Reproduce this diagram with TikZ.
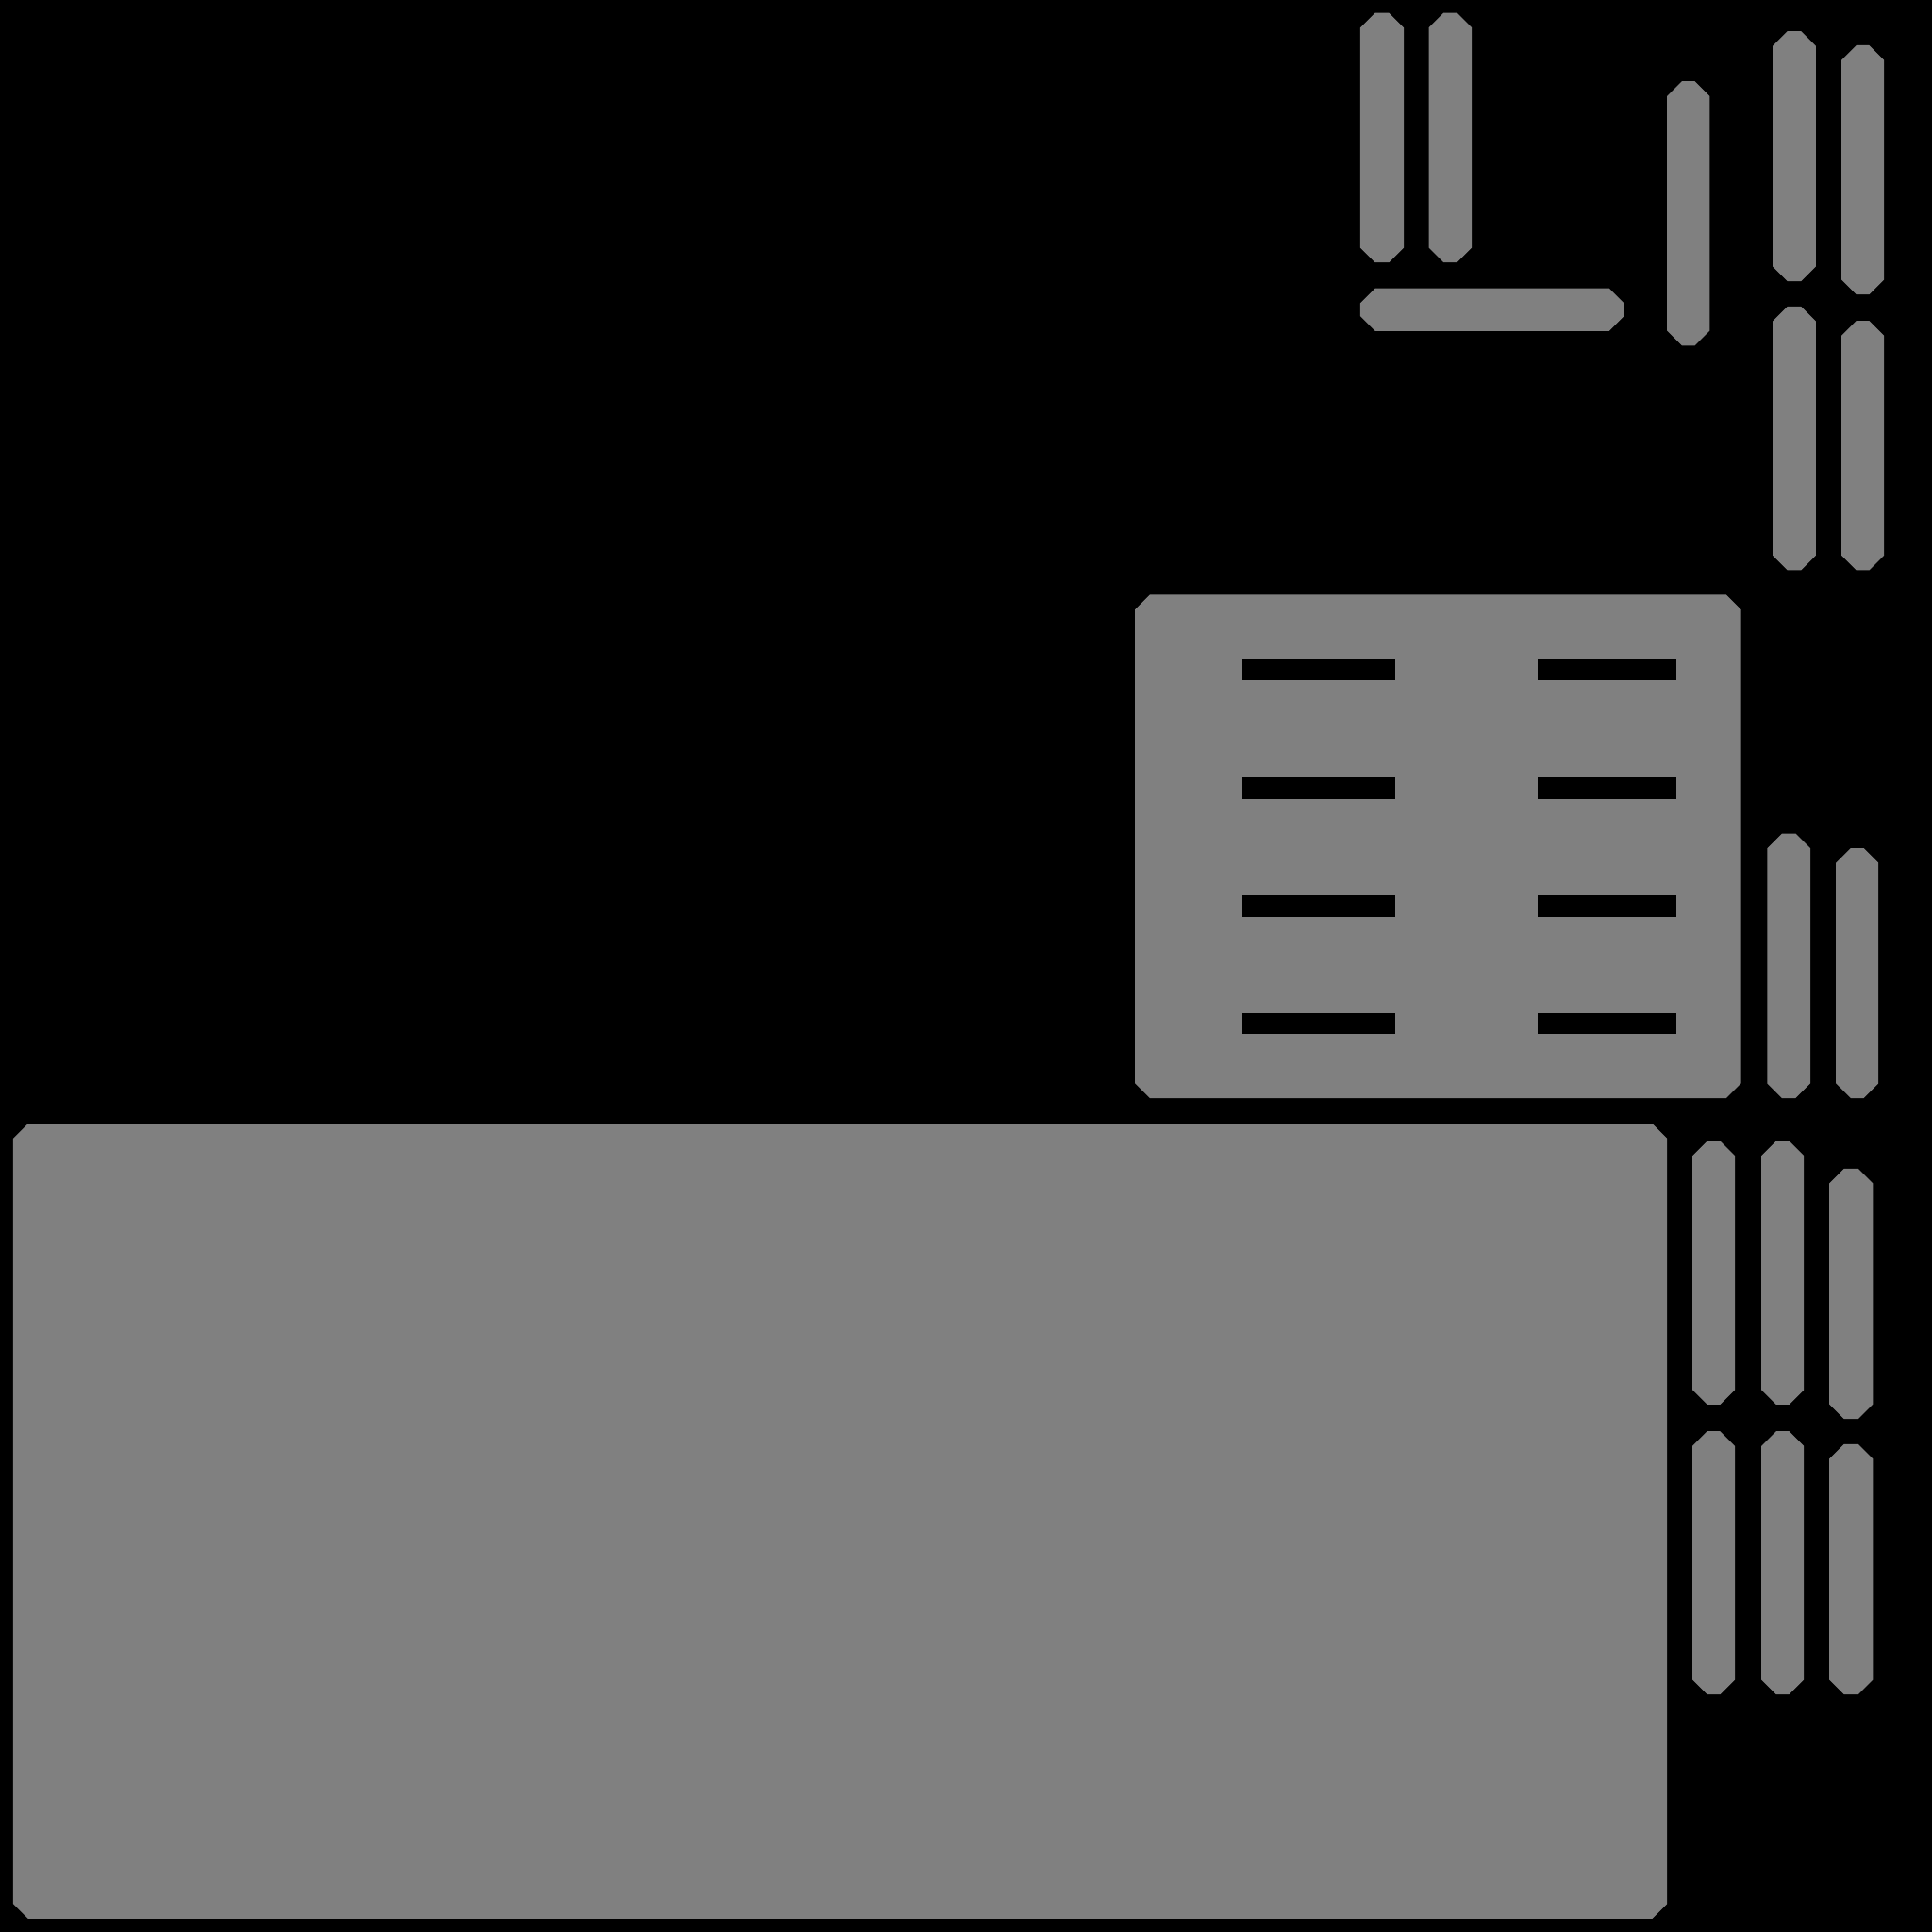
\documentclass[tikz,border=0pt]{standalone}
\definecolor{partgray}{RGB}{128,128,128}
\tikzset{
  part/.style={fill=partgray,draw=none},
  slot/.style={fill=black,draw=none}
}
\newcommand\chrect[5][12]{%
  \fill[part] ({#2+#1},#3) -- ({#4-#1},#3) -- (#4,{#3+#1}) -- (#4,{#5-#1}) --
    ({#4-#1},#5) -- ({#2+#1},#5) -- (#2,{#5-#1}) -- (#2,{#3+#1}) -- cycle;}
\begin{document}
\begin{tikzpicture}[x=1pt,y=-1pt]
\fill[black] (0,0) rectangle (1568,1568);
\useasboundingbox (0,0) rectangle (1568,1568);
% top-left group
\chrect{1104}{10.5}{1139.3}{213}
\chrect{1159.6}{10.5}{1194.5}{213}
\chrect{1104}{234}{1318}{268.6}
\chrect{1353}{66}{1387.5}{280.5}
% top-right columns
\chrect{1438.7}{25.3}{1473.7}{228.3}
\chrect{1494.6}{36.7}{1529}{239}
\chrect{1438.7}{248.7}{1473.7}{462.7}
\chrect{1494.6}{260.4}{1529}{462.7}
% middle box with slots
\chrect{921.2}{482.7}{1413}{891.2}
\foreach \yy in {535.1,631.1,726.8,822.4}{
  \fill[slot] (1008.2,\yy) rectangle (1132.4,\yy+17);
  \fill[slot] (1248,\yy) rectangle (1360.4,\yy+17);
}
% bars beside middle box
\chrect{1434.2}{676.5}{1469.3}{891.2}
\chrect{1490}{688.3}{1524.5}{891.2}
% big box
\chrect{10.7}{912}{1353}{1557.1}
% bars beside big box
\chrect{1373.6}{926}{1408}{1140}
\chrect{1429.5}{926}{1464}{1140}
\chrect{1484.6}{948.5}{1520}{1151.6}
\chrect{1373.6}{1161.6}{1408}{1375.2}
\chrect{1429.5}{1161.6}{1464}{1375.2}
\chrect{1484.6}{1172}{1520}{1375.2}
\end{tikzpicture}
\end{document}
